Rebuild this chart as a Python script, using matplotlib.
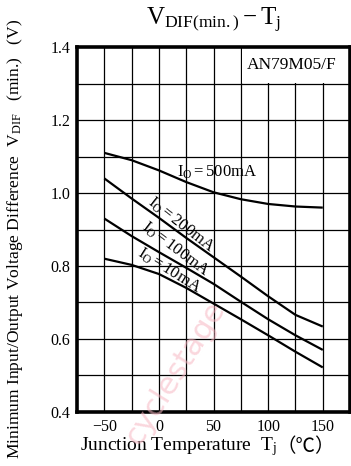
import matplotlib.pyplot as plt
from matplotlib.patches import Rectangle

plt.rcParams['font.family'] = ['Liberation Serif', 'Noto Sans CJK JP']
plt.rcParams['mathtext.fontset'] = 'custom'
plt.rcParams['mathtext.rm'] = 'Liberation Serif'
plt.rcParams['mathtext.it'] = 'Liberation Serif:italic'

# junction temperature (degC) and minimum dropout voltage (V) for each load current
temps = [-50, -25, 0, 25, 50, 75, 100, 125, 150]
v_500ma = [1.110, 1.090, 1.062, 1.030, 1.002, 0.983, 0.970, 0.963, 0.960]
v_200ma = [1.040, 0.985, 0.932, 0.877, 0.824, 0.771, 0.717, 0.666, 0.634]
v_100ma = [0.930, 0.882, 0.838, 0.795, 0.751, 0.702, 0.654, 0.610, 0.570]
v_10ma = [0.820, 0.803, 0.778, 0.740, 0.697, 0.654, 0.610, 0.565, 0.522]

x_ticks = [-50, 0, 50, 100, 150]
y_ticks = [0.4, 0.6, 0.8, 1.0, 1.2, 1.4]

fig = plt.figure(figsize=(3.51, 4.66), dpi=100)
ax = fig.add_axes([0.2194, 0.116, 0.778, 0.783])

ax.set_xlim(-75, 175)
ax.set_ylim(0.4, 1.4)

# grid every 25 degC / 0.1 V
for gx in range(-50, 175, 25):
    ax.axvline(gx, color='black', lw=0.9, zorder=1)
for gy in [0.5, 0.6, 0.7, 0.8, 0.9, 1.0, 1.1, 1.2, 1.3]:
    ax.axhline(gy, color='black', lw=0.9, zorder=1)

# part number box in the top right cell
ax.add_patch(Rectangle((75.6, 1.302), 99.4, 0.098, facecolor='white',
                       edgecolor='none', zorder=2))
ax.text(122, 1.35, 'AN79M05/F', ha='center', va='center', fontsize=12.5, zorder=3)

for v in (v_500ma, v_200ma, v_100ma, v_10ma):
    ax.plot(temps, v, color='black', lw=1.6, zorder=4,
            solid_joinstyle='round', solid_capstyle='butt')

ax.text(53, 1.058, r'$\mathrm{I_O=500mA}$', ha='center', va='center',
        fontsize=12, zorder=5)
ax.text(20, 0.913, r'$\mathrm{I_O=200mA}$', ha='center', va='center',
        fontsize=12, rotation=-38, zorder=5)
ax.text(15, 0.845, r'$\mathrm{I_O=100mA}$', ha='center', va='center',
        fontsize=12, rotation=-37, zorder=5)
ax.text(9, 0.788, r'$\mathrm{I_O=10mA}$', ha='center', va='center',
        fontsize=12, rotation=-32, zorder=5)

ax.set_xticks(x_ticks)
ax.set_xticklabels(['\u221250', '0', '50', '100', '150'])
ax.set_yticks(y_ticks)
ax.set_yticklabels([f'{t:.1f}' for t in y_ticks])
ax.tick_params(length=0, labelsize=11.5, pad=5)

for s in ax.spines.values():
    s.set_linewidth(2.6)

ax.set_title(r'$\mathrm{V_{DIF(min.)}-T_j}$', fontsize=18, pad=16)

# x label, with the degree sign set in a CJK face
xl = ax.set_xlabel(r'Junction Temperature  $\mathrm{T_j}$', fontsize=14)
ax.xaxis.set_label_coords(0.37, -0.106)
ax.xaxis.label.set_va('baseline')
ax.annotate('（℃）', xy=(1, 0), xycoords=xl, xytext=(0, 1),
            textcoords='offset points', ha='left', va='bottom', fontsize=14,
            family='Noto Sans CJK JP', annotation_clip=False)

# y label, drawn from the bottom up
fig.text(15 / 351, 1 - 459 / 466,
         r'Minimum Input/Output Voltage Difference  $\mathrm{V_{DIF}}$'
         '   (min.)   (V)',
         rotation=90, ha='center', va='bottom', fontsize=12.6)

# faint site watermark
fig.text(0.5, 0.2, 'cyclestage', color='#f7b6c2', alpha=0.55, fontsize=22,
         family='DejaVu Sans', rotation=58, ha='center', va='center', zorder=0)

fig.savefig('out.png', dpi=100)
